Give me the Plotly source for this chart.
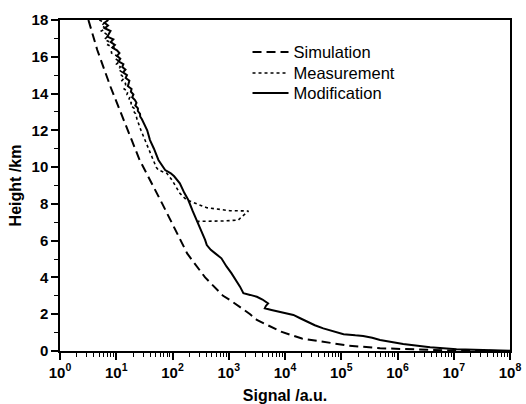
import plotly.graph_objects as go

# ---------------- data ----------------
sim_height = [18.0, 17.46, 16.37, 14.37, 12.56, 10.39, 8.0, 6.0, 5.31, 4.86, 4.0,
              3.0, 2.77, 2.0, 1.69, 1.05, 0.68, 0.42, 0.3, 0.15, 0.06, 0.02, 0.0]
sim_signal = [3.2, 3.6, 4.6, 7.9, 13.5, 26, 66, 141, 182, 234, 380,
              794, 1050, 2400, 3160, 8500, 2.0e4, 7.2e4, 1.26e5, 4.9e5, 2.5e6, 1.0e7, 1.0e8]

meas_height = [18.0, 17.85, 17.7, 17.55, 17.4, 17.25, 17.1, 16.95, 16.8, 16.65, 16.5,
               16.35, 16.2, 16.05, 15.9, 15.75, 15.6, 15.45, 15.3, 15.15, 15.0, 14.85,
               14.7, 14.55, 14.4, 14.25, 14.1, 13.95, 13.8, 13.65, 13.5, 13.35, 13.2,
               13.05, 12.9, 12.75, 12.6,
               12.0, 11.47, 11.0, 10.39, 10.0, 9.84, 9.75, 9.66, 9.3, 8.58, 8.21,
               8.16, 7.79, 7.63, 7.62, 7.61, 7.30, 7.12, 7.07, 7.05, 7.0]
meas_signal = [5.01, 6.22, 5.46, 6.47, 5.42, 6.58, 7.10, 6.15, 7.66, 7.08, 9.02,
               8.15, 8.24, 10.3, 9.57, 11.4, 10.1, 11.8, 10.9, 13.0, 12.3, 13.9,
               12.6, 14.6, 14.7, 13.8, 16.1, 15.5, 17.4, 16.6, 18.5, 18.0, 20.7,
               20.1, 22.1, 22.8, 23.4,
               27.5, 32.4, 37.2, 45.7, 51.3, 56.2, 66.1, 79.4, 97.7, 135, 178,
               200, 407, 1047, 1820, 2240, 1700, 1480, 794, 288, 275]

mod_height = [18.0, 17.85, 17.7, 17.55, 17.4, 17.25, 17.1, 16.95, 16.8, 16.65, 16.5,
              16.35, 16.2, 16.05, 15.9, 15.75, 15.6, 15.45, 15.3, 15.15, 15.0, 14.85,
              14.7, 14.55, 14.4, 14.25, 14.1, 13.95, 13.8, 13.65, 13.5, 13.35, 13.2,
              13.05, 12.9, 12.75, 12.6,
              12.0, 11.47, 11.0, 10.39, 9.84, 9.66, 9.5, 9.12, 8.6, 8.21, 7.6,
              7.12, 6.6, 6.04, 5.76, 5.5, 5.31, 5.04, 4.6, 4.22, 3.5, 3.14, 3.05, 2.95,
              2.8, 2.59, 2.45, 2.32, 2.23, 2.14, 2.05, 1.96, 1.78, 1.59, 1.4, 1.23,
              1.05, 0.91, 0.85, 0.82, 0.72, 0.6, 0.38, 0.2, 0.09, 0.05, 0.02]
mod_signal = [7.24, 6.19, 7.14, 6.25, 7.91, 7.41, 6.95, 8.87, 7.98, 9.46, 8.51,
              10.3, 11.4, 10.3, 11.8, 11.0, 13.4, 12.8, 14.6, 13.2, 15.5, 14.7,
              17.1, 16.6, 16.1, 18.7, 18.2, 20.2, 19.2, 21.5, 22.9, 21.8, 24.3,
              24.2, 26.5, 26.6, 28.6,
              35.5, 39.8, 46.8, 56.2, 74.1, 93.3, 107, 135, 162, 191, 229,
              269, 324, 380, 407, 479, 575, 741, 912, 1122, 1585, 1820, 2400, 3160,
              3980, 5010, 4570, 4370, 5750, 8130, 10700, 14100, 18600, 24500, 33900, 47900,
              75900, 1.1e5, 1.78e5, 2.45e5, 3.55e5, 4.9e5, 1.26e6, 3.8e6, 1.12e7, 4.0e7, 1.0e8]

x_tick_vals = [1, 10, 100, 1e3, 1e4, 1e5, 1e6, 1e7, 1e8]
x_tick_text = ["10<sup>%d</sup>" % i for i in range(9)]
y_tick_vals = [0, 2, 4, 6, 8, 10, 12, 14, 16, 18]

FONT = "Liberation Sans, Arial, sans-serif"

fig = go.Figure()
fig.add_trace(go.Scatter(x=sim_signal, y=sim_height, mode="lines", name="Simulation",
                         legend="legend",
                         line=dict(color="black", width=2, dash="9px,5px")))
fig.add_trace(go.Scatter(x=meas_signal, y=meas_height, mode="lines", name="Measurement",
                         legend="legend2",
                         line=dict(color="black", width=1.6, dash="dot")))
fig.add_trace(go.Scatter(x=mod_signal, y=mod_height, mode="lines", name="Modification",
                         legend="legend3",
                         line=dict(color="black", width=2)))

minor_x = [m * 10 ** d for d in range(8) for m in range(2, 10)]

leg_common = dict(x=0.4167, xanchor="left", yanchor="top",
                  bgcolor="rgba(0,0,0,0)", font=dict(size=16.5, family=FONT),
                  itemwidth=36)

fig.update_layout(
    width=526, height=404,
    margin=dict(l=60, r=16, t=20, b=53),
    paper_bgcolor="white", plot_bgcolor="white",
    font=dict(family=FONT, color="black"),
    showlegend=True,
    legend=dict(y=0.9556, **leg_common),
    legend2=dict(y=0.892, **leg_common),
    legend3=dict(y=0.8318, **leg_common),
    xaxis=dict(type="log", range=[0, 8], tickvals=x_tick_vals, ticktext=x_tick_text,
               automargin=False,
               ticks="outside", ticklen=7, tickwidth=1.5, tickcolor="black",
               showline=True, linecolor="black", linewidth=1.5, mirror=True,
               showgrid=False, zeroline=False,
               tickfont=dict(size=15, family=FONT, weight="bold"),
               minor=dict(tickvals=minor_x, ticks="outside", ticklen=4,
                          tickwidth=1.2, tickcolor="black", showgrid=False),
               title=dict(text="Signal /a.u.", standoff=12,
                          font=dict(size=16, family=FONT, weight="bold"))),
    yaxis=dict(range=[0, 18], tickvals=y_tick_vals, automargin=False,
               ticks="outside", ticklen=7, tickwidth=1.5, tickcolor="black",
               showline=True, linecolor="black", linewidth=1.5, mirror=True,
               showgrid=False, zeroline=False,
               tickfont=dict(size=15, family=FONT, weight="bold"),
               minor=dict(dtick=1, ticks="outside", ticklen=4, tickwidth=1.2,
                          tickcolor="black", showgrid=False),
               title=dict(text="Height /km", standoff=6,
                          font=dict(size=16, family=FONT, weight="bold"))),
)

fig.write_html("out.html",
               config={"displayModeBar": False},
               post_script="document.body.style.margin='0';"
                           "document.body.style.overflow='hidden';")
